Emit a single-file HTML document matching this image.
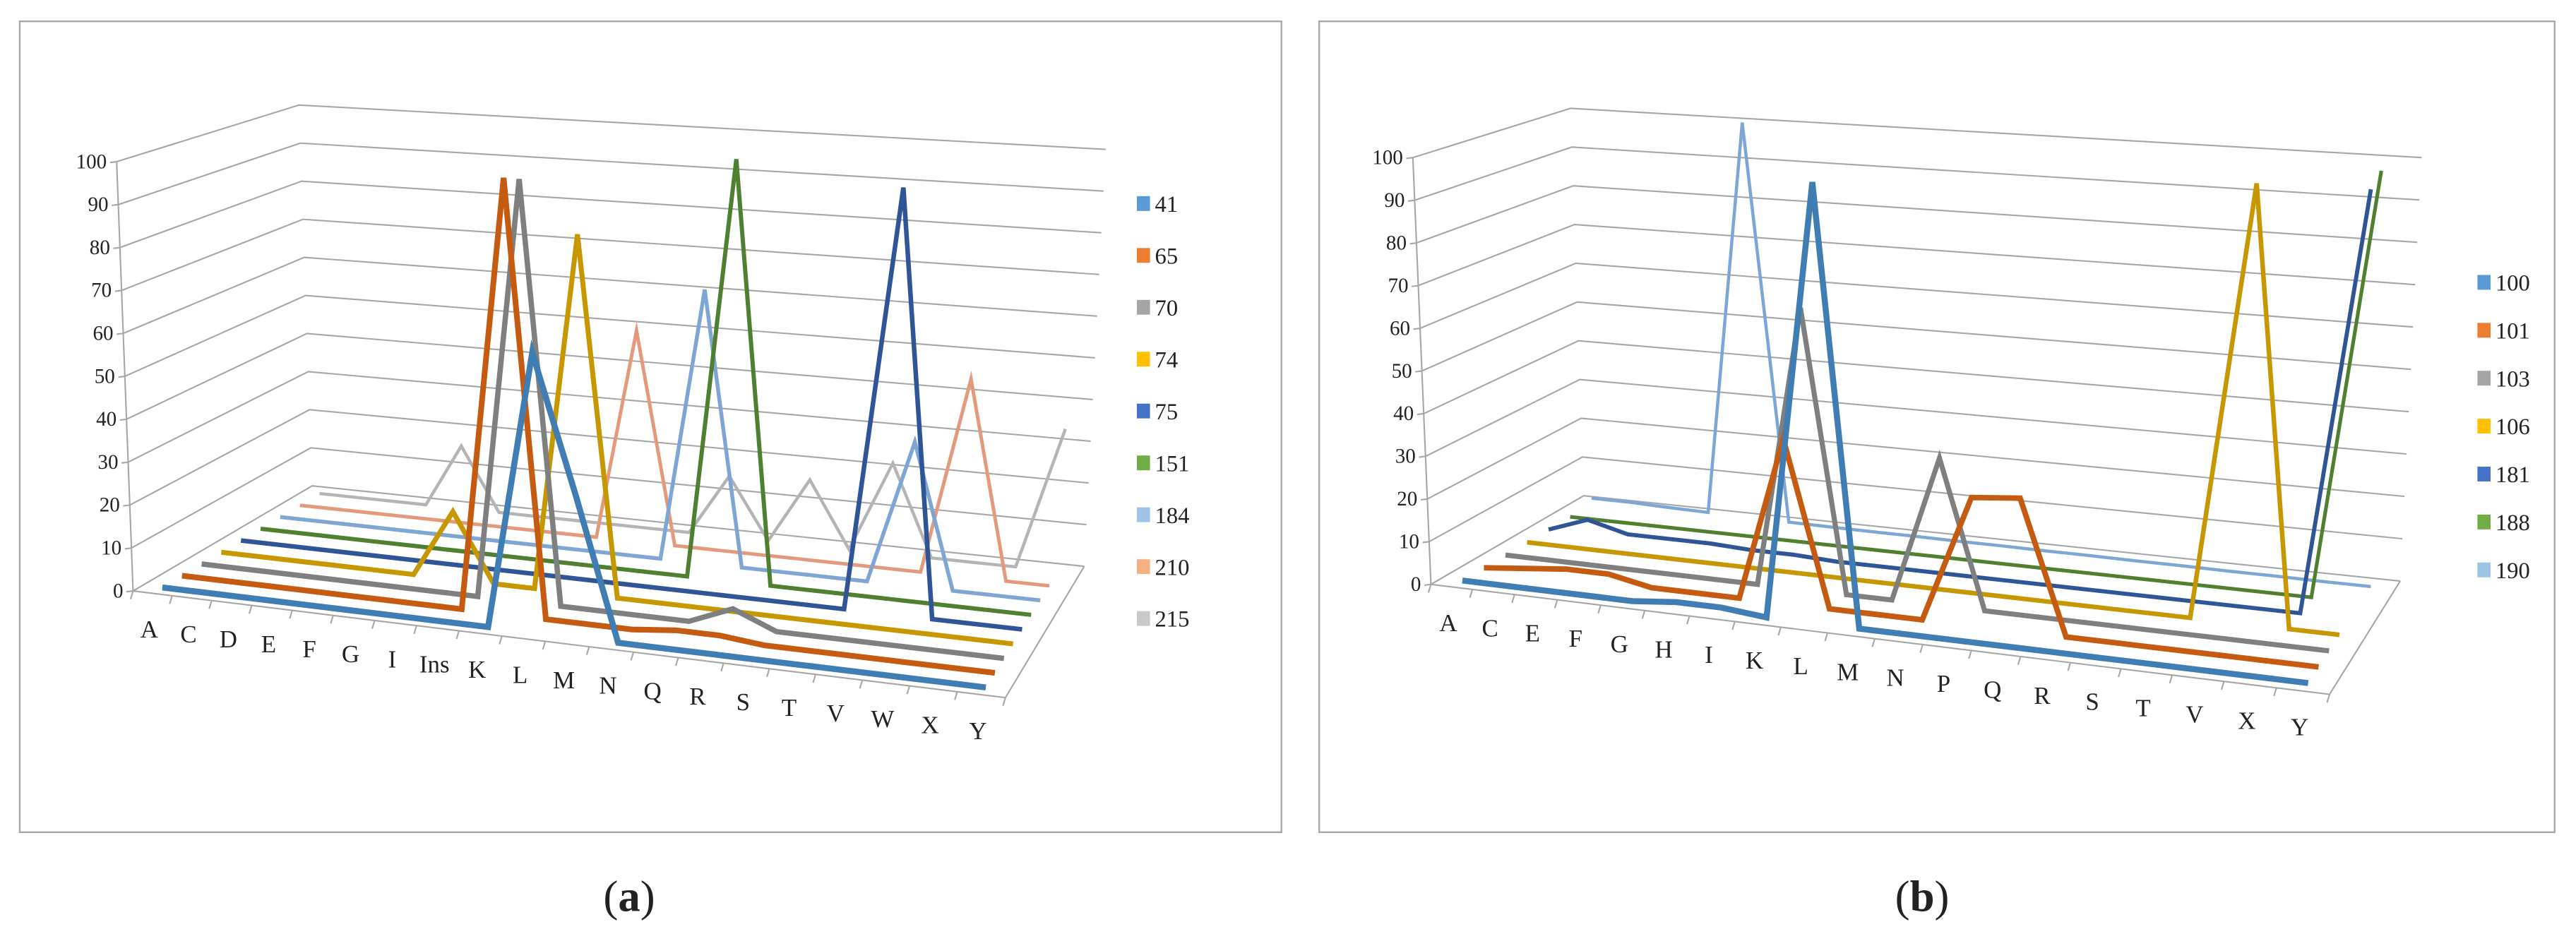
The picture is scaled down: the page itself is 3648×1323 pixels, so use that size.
<!DOCTYPE html>
<html><head><meta charset="utf-8">
<style>
html,body{margin:0;padding:0;background:#fff;}
svg{display:block;}
text{font-family:"Liberation Serif",serif;fill:#222;}
</style></head>
<body>
<svg id="root" xmlns="http://www.w3.org/2000/svg" width="3648" height="1323" viewBox="0 0 1568 569" preserveAspectRatio="none">
<rect x="0" y="0" width="1568" height="569" fill="#fff"/>
<rect x="12" y="13" width="768" height="494" fill="none" stroke="#a6a6a6" stroke-width="1"/>
<rect x="803" y="13" width="752" height="494" fill="none" stroke="#a6a6a6" stroke-width="1"/>
<g id="pa"></g>
<g id="pb"></g>
<text x="383" y="555" font-size="27" text-anchor="middle">(<tspan font-weight="bold">a</tspan>)</text>
<text x="1170" y="555" font-size="27" text-anchor="middle">(<tspan font-weight="bold">b</tspan>)</text>
</svg>
<script>
// ---- Panel (a) data ----
const catsA = ["A","C","D","E","F","G","I","Ins","K","L","M","N","Q","R","S","T","V","W","X","Y"];
const namesA = ["41","65","70","74","75","151","184","210","215"];
const s41  = [0,0,0,0,0,0,0,0,0,63,32,0,0,0,0,0,0,0,0,0];
const s65  = [0,0,0,0,0,0,0,0,100,0,0,0,1,1,0,0,0,0,0,0];
const s70  = [0,0,0,0,0,0,0,0,98,0,0,0,0,4,0,0,0,0,0,0];
const s74  = [0,0,0,0,0,0,16,0,0,84,0,0,0,0,0,0,0,0,0,0];
const s75  = [0,0,0,0,0,0,0,0,0,0,0,0,0,0,0,0,98,0,0,0];
const s151 = [0,0,0,0,0,0,0,0,0,0,0,0,100,0,0,0,0,0,0,0];
const s184 = [0,0,0,0,0,0,0,0,0,0,0,66,0,0,0,0,34,0,0,0];
const s210 = [0,0,0,0,0,0,0,0,0,52,0,0,0,0,0,0,0,47,0,0];
const s215 = [0,0,0,0,16,0,0,0,0,0,0,15,0,16,0,22,0,0,0,34];
// ---- Panel (b) data ----
const catsB = ["A","C","E","F","G","H","I","K","L","M","N","P","Q","R","S","T","V","X","Y"];
const namesB = ["100","101","103","106","181","188","190"];
const s100 = [0,0,0,0,0,1,1,0,100,0,0,0,0,0,0,0,0,0,0];
const s101 = [0,1,2,2,0,0,0,38,0,0,0,29,30,0,0,0,0,0,0];
const s103 = [0,0,0,0,0,0,0,66,0,0,34,0,0,0,0,0,0,0,0];
const s106 = [0,0,0,0,0,0,0,0,0,0,0,0,0,0,0,0,100,0,0];
const s181 = [0,3.5,1,1,1,0.5,0.5,0,0,0,0,0,0,0,0,0,0,0,98];
const s188 = [0,0,0,0,0,0,0,0,0,0,0,0,0,0,0,0,0,0,100];
const s190 = [1.5,1.5,1.2,1,100,0.7,0.6,0.5,0.5,0.4,0.4,0.3,0.3,0.2,0.2,0.1,0.1,0,0];
const yTicks = [0,10,20,30,40,50,60,70,80,90,100];

const legendCol = ["#5B9BD5","#ED7D31","#A5A5A5","#FFC000","#4472C4","#70AD47","#9DC3E6","#F4B183","#C9C9C9"];
const lineCol   = ["#3f7db3","#c55a11","#7f7f7f","#c79700","#2f5597","#4e8030","#7ea6d4","#e39a7c","#b4b4b4"];
const NS = "http://www.w3.org/2000/svg";

function mk(tag, attrs, parent){
  const e = document.createElementNS(NS, tag);
  for (const k in attrs) e.setAttribute(k, attrs[k]);
  parent.appendChild(e);
  return e;
}

function drawChart(g, cfg, cats, names, series, colIdx){
  const G = cfg.geo;
  function proj(u0, v, val){
    const u = u0 - cfg.warp*u0*(1-u0);
    const bx = (1-u)*(1-v)*G.FL[0] + u*(1-v)*G.FR[0] + u*v*G.BR[0] + (1-u)*v*G.BL[0];
    const by = (1-u)*(1-v)*G.FL[1] + u*(1-v)*G.FR[1] + u*v*G.BR[1] + (1-u)*v*G.BL[1];
    const h  = (1-u)*(1-v)*G.h[0] + u*(1-v)*G.h[1] + u*v*G.h[2] + (1-u)*v*G.h[3];
    const dx = (1-u)*(1-v)*G.dx[0] + u*(1-v)*G.dx[1] + u*v*G.dx[2] + (1-u)*v*G.dx[3];
    return [bx + dx*val, by - h*val];
  }
  const n = cats.length, m = names.length;
  const uOf = i => (i+0.5)/n;
  const vOf = j => (j+0.5)/m;
  yTicks.forEach(t => {
    const a = proj(0,0,t), b = proj(0,1,t), c = proj(1,1,t);
    const gl = mk("polyline", {points:`${a[0]},${a[1]} ${b[0]},${b[1]} ${c[0]},${c[1]}`, fill:"none", stroke:"#a6a6a6", "stroke-width":"0.9"}, g);
    
    
    const lab = mk("text", {x: a[0]-6, y: a[1]+4, "font-size":"12.5", "text-anchor":"end"}, g);
    lab.textContent = t;
    
    
    const tk = mk("line", {x1:a[0]-4, y1:a[1]+0.5, x2:a[0], y2:a[1], stroke:"#a6a6a6", "stroke-width":"0.9"}, g);
    
    
  });
  const y0 = proj(0,0,0), y1 = proj(0,0,100);
  const ya = mk("line", {x1:y0[0], y1:y0[1], x2:y1[0], y2:y1[1], stroke:"#a6a6a6", "stroke-width":"0.9"}, g);
  
  
  const fl = proj(0,0,0), fr = proj(1,0,0), br = proj(1,1,0);
  const fo = mk("polyline", {points:`${fl[0]},${fl[1]} ${fr[0]},${fr[1]} ${br[0]},${br[1]}`, fill:"none", stroke:"#a6a6a6", "stroke-width":"0.9"}, g);
  
  
  for (let i=0;i<=n;i++){
    const p = proj(i/n,0,0);
    const tk = mk("line", {x1:p[0], y1:p[1], x2:p[0]-1.5, y2:p[1]+5, stroke:"#a6a6a6", "stroke-width":"0.9"}, g);
    
    
  }
  cats.forEach((c,i) => {
    const p = proj(uOf(i),0,0);
    const t = mk("text", {x:p[0]-2, y:p[1]+27, "font-size":"15", "text-anchor":"middle"}, g);
    t.textContent = c;
    
    
  });
  for (let j=m-1;j>=0;j--){
    const pts = series[j].map((val,i) => proj(uOf(i), vOf(j), val).map(x=>x.toFixed(2)).join(",")).join(" ");
    const w = 3.8 - vOf(j)*2.0;
    const pl = mk("polyline", {points:pts, fill:"none", stroke:lineCol[colIdx[j]], "stroke-width":w, "stroke-linejoin":"miter", "stroke-miterlimit":"6"}, g);
    
    
  }
  names.forEach((nm,j) => {
    const y = cfg.leg.y0 + j*cfg.leg.dy;
    const r = mk("rect", {x:cfg.leg.x, y:y-4.5, width:8, height:9, fill:legendCol[colIdx[j]]}, g);
    
    
    const t = mk("text", {x:cfg.leg.x+11, y:y+5, "font-size":"14"}, g);
    t.textContent = nm;
    
    
  });
}

drawChart(document.getElementById("pa"), {
  geo:{FL:[81,360], FR:[612,425], BR:[660,345], BL:[190,296], h:[2.615,2.85,2.54,2.32], dx:[-0.1,0.15,0.13,-0.08]},
  leg:{x:692, y0:124, dy:31.6}, warp:0.11
}, catsA, namesA, [s41,s65,s70,s74,s75,s151,s184,s210,s215], [0,1,2,3,4,5,6,7,8]);

drawChart(document.getElementById("pb"), {
  geo:{FL:[871,356], FR:[1418,423], BR:[1461,354], BL:[964,302], h:[2.6,2.85,2.58,2.36], dx:[-0.11,0.15,0.13,-0.08]},
  leg:{x:1508, y0:172, dy:29.2}, warp:0.13
}, catsB, namesB, [s100,s101,s103,s106,s181,s188,s190], [0,1,2,3,4,5,6]);
</script>
</body></html>
